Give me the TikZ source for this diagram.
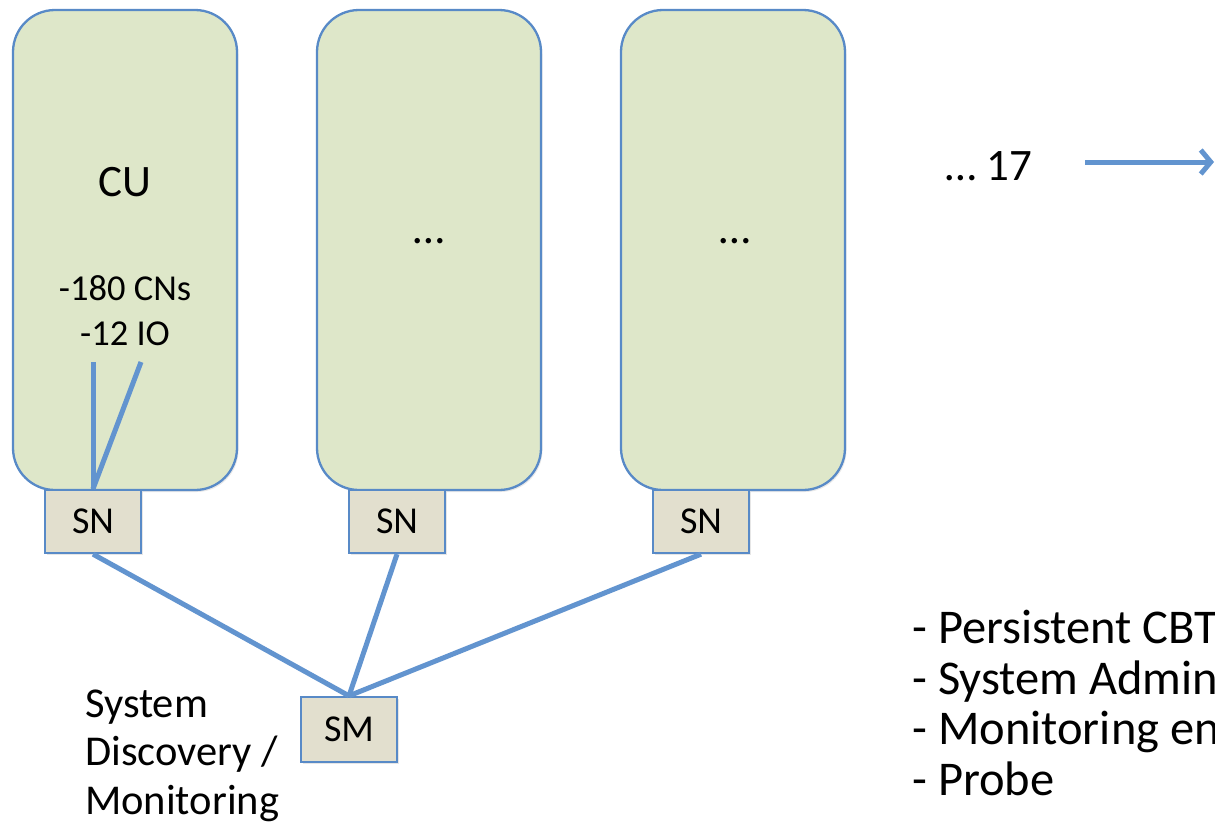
\documentclass[tikz,border=0pt]{standalone}
\usepackage{fontspec}
\setmainfont{Carlito}
\usetikzlibrary{arrows.meta,shadows}

\definecolor{cugreen}{RGB}{222,231,201}
\definecolor{edgeblue}{RGB}{88,138,199}
\definecolor{linkblue}{RGB}{98,148,207}
\definecolor{switchtan}{RGB}{226,223,206}

\tikzset{
  unitbox/.style={draw=edgeblue, line width=2.3pt, fill=cugreen,
    rounded corners=42pt, minimum width=224pt, minimum height=480pt,
    inner sep=0pt, drop shadow={shadow xshift=1.5pt, shadow yshift=-2pt, opacity=0.18}},
  switchbox/.style={draw=edgeblue, line width=2.3pt, fill=switchtan,
    minimum width=96pt, minimum height=63pt, inner sep=0pt,
    font=\fontsize{38}{42}\selectfont,
    drop shadow={shadow xshift=1.5pt, shadow yshift=-2pt, opacity=0.2}},
  link/.style={draw=linkblue, line width=5pt},
  bigtxt/.style={inner sep=0pt, anchor=base, font=\fontsize{45}{54}\selectfont},
  midtxt/.style={inner sep=0pt, anchor=base, font=\fontsize{36.5}{42}\selectfont},
  listtxt/.style={inner sep=0pt, anchor=base west, font=\fontsize{48.5}{56}\selectfont},
  notetxt/.style={inner sep=0pt, anchor=base west, font=\fontsize{42.5}{50}\selectfont},
}

\begin{document}
\begin{tikzpicture}[x=1pt, y=-1pt]
  \useasboundingbox (0,0) rectangle (1215,822);

  % compute units
  \node[unitbox] (cu1) at (125,250) {};
  \node[unitbox] (cu2) at (429,250) {};
  \node[unitbox] (cu3) at (733,250) {};

  % unit labels
  \node[bigtxt] (cutitle) at (125,196) {CU};
  \node[midtxt] (cns) at (125,300) {-180 CNs};
  \node[midtxt] (ios) at (125,345) {-12 IO};
  \node[bigtxt] (more2) at (429,243) {…};
  \node[bigtxt] (more3) at (735,243) {…};

  % switch nodes under each unit
  \node[switchbox] (sn1) at (93,521.5) {SN};
  \node[switchbox] (sn2) at (397,521.5) {SN};
  \node[switchbox] (sn3) at (701,521.5) {SN};

  % system manager
  \node[switchbox, minimum height=65pt] (sm) at (349,729.5) {SM};

  % links inside the first unit
  \coordinate (cnlink) at (93,362);
  \coordinate (iolink) at (141,362);
  \draw[link] (cnlink) -- (sn1.north);
  \draw[link] (iolink) -- (sn1.north);

  % links to the manager
  \draw[link] (sn1.south) -- (sm.north);
  \draw[link] (sn2.south) -- (sm.north);
  \draw[link] (sn3.south) -- (sm.north);

  % unit count and arrow
  \node[bigtxt, anchor=base west] (count) at (945,180) {… 17};
  \coordinate (arrstart) at (1085,162);
  \coordinate (arrend) at (1214,162);
  \draw[link, -{Straight Barb[length=10pt, width=24pt, line width=5pt]}] (arrstart) -- (arrend);

  % manager caption
  \node[notetxt] (cap1) at (85,717) {System};
  \node[notetxt] (cap2) at (85,765) {Discovery /};
  \node[notetxt] (cap3) at (85,814) {Monitoring};

  % manager duties
  \node[listtxt] (duty1) at (912,643) {- Persistent CBT};
  \node[listtxt] (duty2) at (912,694) {- System Admin};
  \node[listtxt] (duty3) at (912,744) {- Monitoring en};
  \node[listtxt] (duty4) at (912,795) {- Probe};
\end{tikzpicture}
\end{document}
